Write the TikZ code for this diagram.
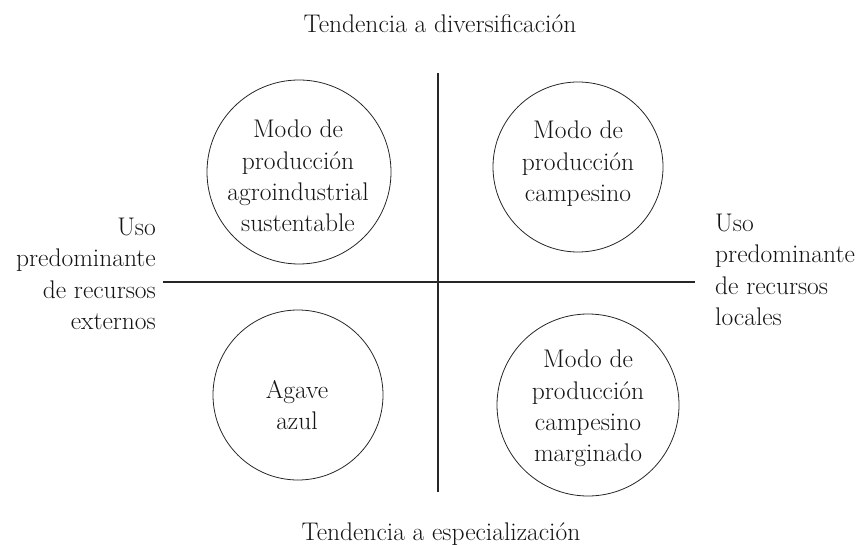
\documentclass[tikz,border=0pt]{standalone}
\usepackage{fontspec}
\begin{document}
\begin{tikzpicture}[x=1pt,y=-1pt,
  txt/.style={inner sep=0pt,text=black!92,font=\fontsize{25.5}{31.4}\selectfont},
  circ/.style={draw=black!85,line width=0.8pt,circle,inner sep=0pt},
  axis/.style={draw=black!85,line width=1.1pt}]
\useasboundingbox (0,0) rectangle (867,545);
% axes
\coordinate (vt) at (438,73);
\coordinate (vb) at (438,492);
\coordinate (hl) at (163,282);
\coordinate (hr) at (695,282);
\draw[axis] (vt) -- (vb);
\draw[axis] (hl) -- (hr);
% circles
\node[circ,minimum size=184pt] (c1) at (299,172) {};
\node[circ,minimum size=170pt] (c2) at (578,167) {};
\node[circ,minimum size=170pt] (c3) at (298,395) {};
\node[circ,minimum size=182pt] (c4) at (588,405) {};
% circle texts
\node[txt,align=center] (t1) at (298,176) {Modo de\\producción\\agroindustrial\\sustentable};
\node[txt,align=center] (t2) at (578,164) {Modo de\\producción\\campesino};
\node[txt,align=center] (t3) at (297,405) {Agave\\azul};
\node[txt,align=center] (t4) at (588,408.6) {Modo de\\producción\\campesino\\marginado};
% titles
\node[txt,anchor=base] (top) at (440,33) {Tendencia a diversificación};
\node[txt,anchor=base] (bot) at (441,540) {Tendencia a especialización};
% side labels
\node[txt,align=right,anchor=north east] (left) at (156,217.6) {Uso\\predominante\\de recursos\\externos};
\node[txt,align=left,anchor=north west] (right) at (715,213.6) {Uso\\predominante\\de recursos\\locales};
\end{tikzpicture}
\end{document}
